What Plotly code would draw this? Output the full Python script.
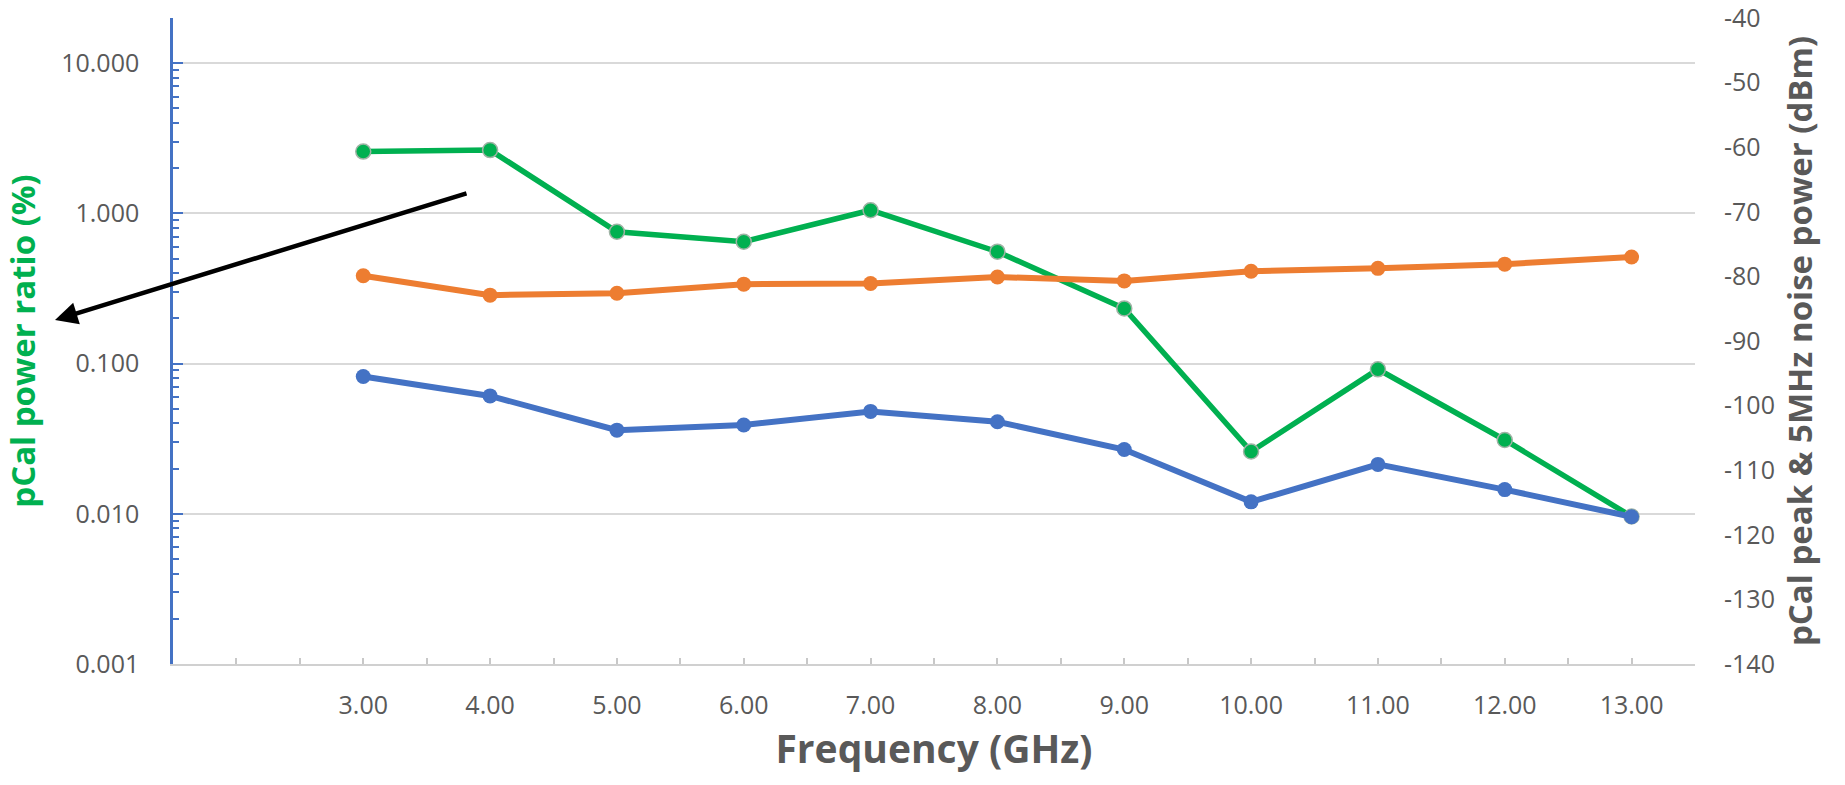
import plotly.graph_objects as go

# ---- data ----
freq_ghz = [3, 4, 5, 6, 7, 8, 9, 10, 11, 12, 13]
power_ratio_pct = [2.58, 2.64, 0.755, 0.648, 1.05, 0.556, 0.233, 0.026, 0.0916, 0.031, 0.0096]
noise_power_dbm = [-79.9, -82.9, -82.6, -81.2, -81.1, -80.1, -80.7, -79.2, -78.75, -78.1, -77.0]
pcal_peak_dbm = [-95.5, -98.5, -103.8, -103.0, -100.9, -102.5, -106.8, -114.9, -109.1, -113.0, -117.2]

x_tick_vals = [1.5, 2.0, 2.5, 3, 3.5, 4, 4.5, 5, 5.5, 6, 6.5, 7, 7.5, 8, 8.5, 9, 9.5,
               10, 10.5, 11, 11.5, 12, 12.5, 13, 13.5]
x_tick_text = ["", "", "", "3.00", "", "4.00", "", "5.00", "", "6.00", "", "7.00", "",
               "8.00", "", "9.00", "", "10.00", "", "11.00", "", "12.00", "", "13.00", ""]
left_tick_vals = [0.001, 0.01, 0.1, 1, 10]
left_tick_text = ["0.001", "0.010", "0.100", "1.000", "10.000"]
right_tick_vals = [-140, -130, -120, -110, -100, -90, -80, -70, -60, -50, -40]
right_tick_text = ["-140", "-130", "-120", "-110", "-100", "-90", "-80", "-70", "-60", "-50", "-40"]

GREEN = "#00B050"
ORANGE = "#ED7D31"
BLUE = "#4472C4"
GREY_TXT = "#595959"
FONT = "Open Sans"

fig = go.Figure()

fig.add_trace(go.Scatter(
    x=freq_ghz, y=pcal_peak_dbm, yaxis="y2", mode="lines+markers",
    line=dict(color=BLUE, width=6), marker=dict(size=15, color=BLUE),
    name="pCal peak"))
fig.add_trace(go.Scatter(
    x=freq_ghz, y=noise_power_dbm, yaxis="y2", mode="lines+markers",
    line=dict(color=ORANGE, width=6), marker=dict(size=15, color=ORANGE),
    name="5MHz noise power"))
fig.add_trace(go.Scatter(
    x=freq_ghz, y=power_ratio_pct, yaxis="y", mode="lines+markers",
    line=dict(color=GREEN, width=5.5),
    marker=dict(size=15, color=GREEN, line=dict(color="#9fb3a5", width=1.5)),
    name="pCal power ratio"))

fig.update_layout(
    template="none",
    width=1845, height=785,
    paper_bgcolor="white", plot_bgcolor="white",
    showlegend=False,
    margin=dict(l=173, r=150, t=18, b=121, autoexpand=False),
    font=dict(family=FONT, color=GREY_TXT, size=25),
    xaxis=dict(
        automargin=False,
        range=[1.5, 13.5], tickmode="array", tickvals=x_tick_vals, ticktext=x_tick_text,
        ticks="inside", ticklen=6, tickcolor="#c8c8c8", tickwidth=1.5,
        showline=True, linecolor="#d0d0d0", linewidth=2,
        showgrid=False, zeroline=False,
        ticklabelstandoff=18,
        tickfont=dict(size=25, color=GREY_TXT, family=FONT),
        title=dict(text="<b>Frequency (GHz)</b>", font=dict(size=39, color=GREY_TXT, family=FONT),
                   standoff=14),
    ),
    yaxis=dict(
        automargin=False,
        type="log", range=[-3, 1.301],
        tickmode="array", tickvals=left_tick_vals, ticktext=left_tick_text,
        ticks="inside", ticklen=10, tickcolor=BLUE, tickwidth=2,
        minor=dict(ticks="inside", ticklen=6, tickcolor=BLUE, tickwidth=2, dtick="D1", showgrid=False),
        showline=True, linecolor=BLUE, linewidth=2.5,
        showgrid=True, gridcolor="#d9d9d9", gridwidth=2, zeroline=False,
        ticklabelstandoff=26,
        tickfont=dict(size=25, color=GREY_TXT, family=FONT),
        title=dict(text="<b>pCal power ratio (%)</b>", font=dict(size=33, color=GREEN, family=FONT),
                   standoff=44),
    ),
    yaxis2=dict(
        automargin=False,
        overlaying="y", side="right", range=[-140, -40],
        tickmode="array", tickvals=right_tick_vals, ticktext=right_tick_text,
        ticks="", showline=False, showgrid=False, zeroline=False,
        ticklabelstandoff=28, ticklabeloverflow="allow",
        tickfont=dict(size=25, color=GREY_TXT, family=FONT),
        title=dict(text="<b>pCal peak &amp; 5MHz noise power (dBm)</b>",
                   font=dict(size=33, color=GREY_TXT, family=FONT), standoff=14),
    ),
    annotations=[dict(
        xref="paper", yref="paper", x=(55 - 173) / 1522, y=(664 - 320) / 646,
        ax=413, ay=-127, axref="pixel", ayref="pixel",
        text="", showarrow=True, arrowhead=2, arrowsize=1.0, arrowwidth=4.5, arrowcolor="black")],
)

fig.write_html("out.html", config={"displayModeBar": False},
               post_script="document.body.style.margin='0';")
